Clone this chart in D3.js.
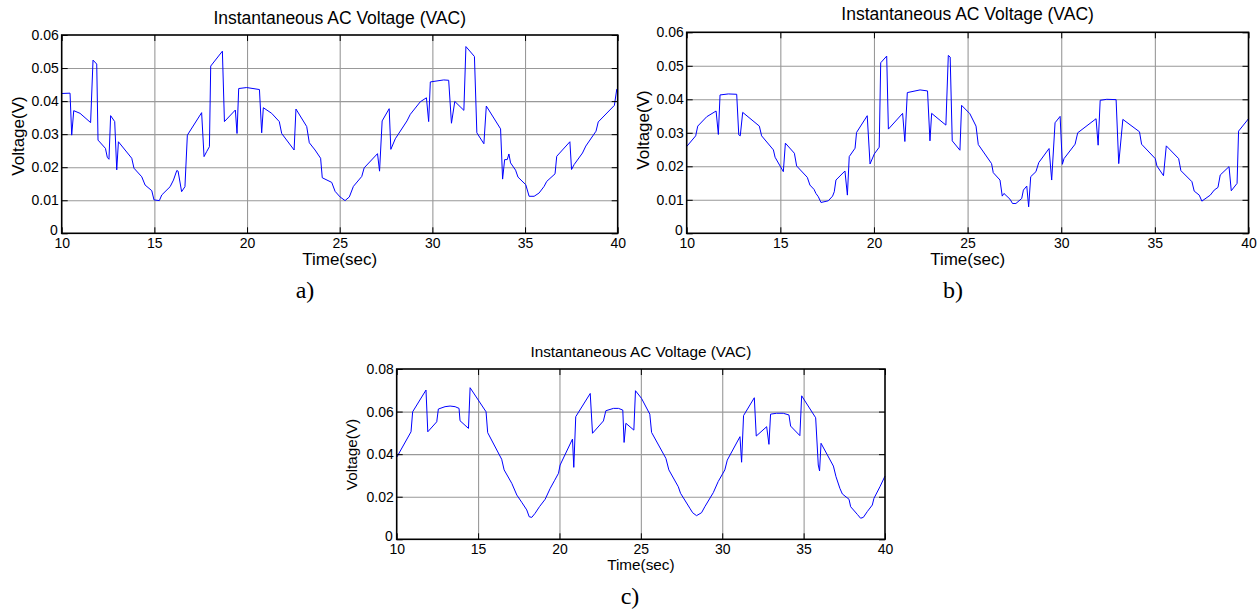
<!DOCTYPE html>
<html>
<head>
<meta charset="utf-8">
<script src="https://cdn.jsdelivr.net/npm/d3@7"></script>
<style>
  html, body { margin: 0; padding: 0; background: #fff; }
  svg { display: block; }
  text { font-family: "Liberation Sans", Arial, sans-serif; fill: #000; }
</style>
</head>
<body>
<svg id="chart" width="1260" height="611"></svg>
<script>
// ---------------- DATA ----------------
const xTicks = [10, 15, 20, 25, 30, 35, 40];
const yTicksAB = [0, 0.01, 0.02, 0.03, 0.04, 0.05, 0.06];
const yTicksC = [0, 0.02, 0.04, 0.06, 0.08];
const chartTitle = "Instantaneous AC Voltage (VAC)";
const xLabel = "Time(sec)";
const yLabel = "Voltage(V)";
const panelTags = ["a)", "b)", "c)"];

const timeA = [10, 10.45, 10.54, 10.65, 10.99, 11.56, 11.69, 11.89, 11.96, 12.36,
  12.46, 12.55, 12.64, 12.86, 12.97, 13.06, 13.42, 13.78, 13.90, 14.32,
  14.50, 14.86, 14.98, 15.27, 15.40, 15.85, 16.03, 16.21, 16.28, 16.47,
  16.65, 16.78, 17.55, 17.68, 17.82, 17.97, 18.04, 18.67, 18.78, 19.37,
  19.46, 19.55, 19.98, 20.67, 20.79, 20.88, 21.33, 21.74, 21.87, 22.54,
  22.64, 23.22, 23.36, 23.67, 23.97, 24.06, 24.57, 24.75, 25.02, 25.29,
  25.52, 25.74, 26.19, 26.32, 27.04, 27.15, 27.29, 27.67, 27.76, 28.00,
  28.63, 28.81, 29.35, 29.68, 29.80, 29.89, 30.61, 30.88, 31.03, 31.21,
  31.70, 31.81, 32.27, 32.40, 32.78, 32.91, 33.68, 33.79, 33.90, 34.04,
  34.13, 34.22, 34.49, 34.62, 35.04, 35.22, 35.49, 35.76, 36.03, 36.17,
  36.62, 36.71, 37.42, 37.51, 37.65, 38.10, 38.28, 38.83, 38.95, 39.82,
  39.95, 40];
const voltA = [0.0423, 0.0424, 0.0297, 0.0371, 0.0363, 0.0335, 0.0524, 0.0512, 0.0282, 0.0257,
  0.0230, 0.0224, 0.0356, 0.0338, 0.0192, 0.0277, 0.0252, 0.0227, 0.0197, 0.0171,
  0.0146, 0.0129, 0.0101, 0.0099, 0.0116, 0.0141, 0.0161, 0.0190, 0.0188, 0.0126,
  0.0141, 0.0297, 0.0365, 0.0232, 0.0247, 0.0262, 0.0506, 0.0551, 0.0338, 0.0373,
  0.0302, 0.0438, 0.0441, 0.0435, 0.0304, 0.0380, 0.0363, 0.0338, 0.0302, 0.0252,
  0.0376, 0.0323, 0.0274, 0.0252, 0.0227, 0.0168, 0.0154, 0.0127, 0.0110, 0.0099,
  0.0110, 0.0142, 0.0172, 0.0198, 0.0241, 0.0188, 0.0340, 0.0377, 0.0254, 0.0286,
  0.0340, 0.0360, 0.0398, 0.0410, 0.0338, 0.0458, 0.0464, 0.0463, 0.0333, 0.0399,
  0.0372, 0.0565, 0.0535, 0.0304, 0.0271, 0.0385, 0.0316, 0.0164, 0.0223, 0.0223,
  0.0240, 0.0213, 0.0191, 0.0170, 0.0147, 0.0112, 0.0112, 0.0122, 0.0142, 0.0157,
  0.0180, 0.0233, 0.0277, 0.0193, 0.0208, 0.0243, 0.0264, 0.0309, 0.0337, 0.0387,
  0.0436, 0.0438];

const timeB = [10, 10.48, 10.59, 11.07, 11.57, 11.69, 11.78, 12.22, 12.67, 12.78,
  12.86, 12.99, 13.88, 14.00, 14.63, 14.72, 15.16, 15.27, 15.75, 15.87,
  16.44, 16.58, 16.80, 16.90, 17.03, 17.17, 17.56, 17.79, 17.88, 17.97,
  18.45, 18.58, 18.68, 18.99, 19.07, 19.64, 19.79, 20.02, 20.28, 20.36,
  20.68, 20.77, 21.53, 21.65, 21.78, 22.46, 22.86, 22.99, 23.08, 23.84,
  23.97, 24.07, 24.18, 24.59, 24.68, 25.12, 25.45, 25.57, 26.28, 26.37,
  26.73, 26.85, 26.94, 27.26, 27.40, 27.58, 27.89, 27.98, 28.16, 28.26,
  28.37, 28.65, 28.80, 29.35, 29.49, 29.67, 29.94, 30.06, 30.15, 30.74,
  30.88, 31.86, 31.97, 32.08, 32.43, 32.93, 33.07, 33.29, 34.18, 34.29,
  35.02, 35.11, 35.46, 35.61, 36.27, 36.39, 36.98, 37.10, 37.37, 37.51,
  37.96, 38.17, 38.37, 38.49, 38.96, 39.08, 39.39, 39.47, 40];
const voltB = [0.0259, 0.0291, 0.0320, 0.0348, 0.0365, 0.0295, 0.0413, 0.0416, 0.0415, 0.0294,
  0.0291, 0.0361, 0.0320, 0.0291, 0.0249, 0.0227, 0.0184, 0.0269, 0.0239, 0.0201,
  0.0167, 0.0144, 0.0131, 0.0119, 0.0109, 0.0092, 0.0097, 0.0111, 0.0124, 0.0159,
  0.0186, 0.0114, 0.0229, 0.0254, 0.0301, 0.0351, 0.0207, 0.0237, 0.0257, 0.0509,
  0.0529, 0.0311, 0.0358, 0.0274, 0.0420, 0.0428, 0.0425, 0.0276, 0.0358, 0.0323,
  0.0531, 0.0526, 0.0276, 0.0248, 0.0382, 0.0357, 0.0320, 0.0265, 0.0208, 0.0181,
  0.0159, 0.0111, 0.0119, 0.0102, 0.0089, 0.0089, 0.0104, 0.0129, 0.0141, 0.0079,
  0.0169, 0.0184, 0.0211, 0.0253, 0.0159, 0.0330, 0.0349, 0.0206, 0.0223, 0.0266,
  0.0300, 0.0342, 0.0263, 0.0397, 0.0400, 0.0399, 0.0208, 0.0340, 0.0303, 0.0266,
  0.0223, 0.0201, 0.0172, 0.0261, 0.0223, 0.0187, 0.0154, 0.0126, 0.0114, 0.0096,
  0.0114, 0.0129, 0.0137, 0.0174, 0.0199, 0.0127, 0.0149, 0.0305, 0.0342];

const timeC = [10, 10.88, 10.98, 11.80, 11.91, 12.46, 12.56, 12.97, 13.28, 13.59,
  13.83, 13.89, 14.41, 14.51, 15.49, 15.59, 16.45, 16.60, 17.07, 17.38,
  17.68, 17.99, 18.14, 18.30, 18.50, 18.77, 19.12, 19.43, 19.69, 19.94,
  20.04, 20.80, 20.88, 21.00, 21.89, 22.03, 22.70, 22.85, 23.32, 23.63,
  23.89, 23.97, 24.08, 24.57, 24.67, 25.04, 25.55, 25.66, 26.54, 26.72,
  27.30, 27.44, 28.01, 28.18, 28.42, 28.73, 28.93, 29.45, 29.75, 30.16,
  30.31, 31.09, 31.19, 31.31, 31.97, 32.09, 32.73, 32.87, 32.97, 33.34,
  33.75, 34.10, 34.20, 34.77, 34.88, 35.74, 35.90, 35.98, 36.07, 36.83,
  36.99, 37.23, 37.38, 37.79, 37.89, 38.30, 38.50, 38.67, 38.91, 39.22,
  39.32, 39.69, 40];
const voltC = [0.0385, 0.0505, 0.0599, 0.0701, 0.0505, 0.0552, 0.0612, 0.0623, 0.0626, 0.0623,
  0.0615, 0.0557, 0.0521, 0.0712, 0.0599, 0.0501, 0.0376, 0.0326, 0.0263, 0.0208,
  0.0174, 0.0138, 0.0106, 0.0103, 0.0122, 0.0153, 0.0188, 0.0239, 0.0275, 0.0310,
  0.0349, 0.0471, 0.0338, 0.0576, 0.0685, 0.0498, 0.0556, 0.0604, 0.0615, 0.0615,
  0.0607, 0.0455, 0.0545, 0.0513, 0.0698, 0.0662, 0.0588, 0.0502, 0.0380, 0.0326,
  0.0247, 0.0216, 0.0146, 0.0125, 0.0111, 0.0125, 0.0153, 0.0219, 0.0271, 0.0326,
  0.0372, 0.0482, 0.0362, 0.0581, 0.0665, 0.0485, 0.0529, 0.0446, 0.0588, 0.0592,
  0.0592, 0.0584, 0.0532, 0.0487, 0.0674, 0.0571, 0.0349, 0.0321, 0.0451, 0.0344,
  0.0294, 0.0239, 0.0213, 0.0188, 0.0153, 0.0117, 0.0099, 0.0103, 0.0130, 0.0161,
  0.0192, 0.0247, 0.0297];

// ---------------- LAYOUT ----------------
const layout = [
  { t: timeA, v: voltA, yTicks: yTicksAB, left: 61.7, right: 617.7, top: 35, bottom: 233.3,
    titleY: 24, titleSize: 17.5, xlabY: 265, xlabSize: 17, ylabX: 24, ylabY: 136, ylabSize: 17,
    tickSize: 14, tagX: 305, tagY: 298 },
  { t: timeB, v: voltB, yTicks: yTicksAB, left: 686.7, right: 1248.5, top: 32.3, bottom: 233.3,
    titleY: 20, titleSize: 17.5, xlabY: 265, xlabSize: 17, ylabX: 649, ylabY: 130, ylabSize: 17,
    tickSize: 14, tagX: 953, tagY: 298 },
  { t: timeC, v: voltC, yTicks: yTicksC, left: 396.7, right: 885, top: 369, bottom: 539.3,
    titleY: 357, titleSize: 15.3, xlabY: 570, xlabSize: 15.3, ylabX: 357, ylabY: 454.5, ylabSize: 15.3,
    tickSize: 14, tagX: 630, tagY: 604 }
];

const svg = d3.select("#chart");

layout.forEach((p, i) => {
  const x = d3.scaleLinear().domain([xTicks[0], xTicks[xTicks.length - 1]]).range([p.left, p.right]);
  const y = d3.scaleLinear().domain([p.yTicks[0], p.yTicks[p.yTicks.length - 1]]).range([p.bottom, p.top]);
  const w = p.right - p.left, h = p.bottom - p.top;
  const g = svg.append("g");

  // grid
  g.append("g").attr("transform", `translate(0,${p.bottom})`)
    .call(d3.axisBottom(x).tickValues(xTicks.slice(1, -1)).tickSize(-h).tickFormat(""))
    .call(s => s.select(".domain").remove())
    .call(s => s.selectAll("line").attr("stroke", "#999").attr("stroke-width", 1.1));
  g.append("g").attr("transform", `translate(${p.left},0)`)
    .call(d3.axisLeft(y).tickValues(p.yTicks.slice(1, -1)).tickSize(-w).tickFormat(""))
    .call(s => s.select(".domain").remove())
    .call(s => s.selectAll("line").attr("stroke", "#999").attr("stroke-width", 1.1));

  // data line
  const pts = d3.zip(p.t, p.v);
  g.append("path").datum(pts)
    .attr("fill", "none").attr("stroke", "#0000ff").attr("stroke-width", 1)
    .attr("stroke-linejoin", "miter")
    .attr("d", d3.line().x(d => x(d[0])).y(d => y(d[1])));

  // axes with inward ticks
  const fmt = d => d === 0 ? "0" : d3.format("")(d);
  const bottomAx = g.append("g").attr("transform", `translate(0,${p.bottom})`)
    .call(d3.axisBottom(x).tickValues(xTicks).tickSize(-6).tickPadding(5).tickFormat(d3.format("d")));
  const leftAx = g.append("g").attr("transform", `translate(${p.left},0)`)
    .call(d3.axisLeft(y).tickValues(p.yTicks).tickSize(-6).tickPadding(3).tickFormat(fmt));
  const topAx = g.append("g").attr("transform", `translate(0,${p.top})`)
    .call(d3.axisTop(x).tickValues(xTicks).tickSize(-6).tickFormat(""));
  const rightAx = g.append("g").attr("transform", `translate(${p.right},0)`)
    .call(d3.axisRight(y).tickValues(p.yTicks).tickSize(-6).tickFormat(""));
  [bottomAx, leftAx, topAx, rightAx].forEach(a => {
    a.select(".domain").remove();
    a.selectAll("line").attr("stroke", "#000").attr("stroke-width", 1);
    a.selectAll("text").attr("font-family", "'Liberation Sans', Arial, sans-serif")
      .attr("font-size", p.tickSize).attr("fill", "#000");
  });
  // the corner "0" sits just above the first x label, as in the reference
  leftAx.selectAll(".tick text").filter(d => d === 0).attr("dy", "0.05em").attr("x", -4);

  // box
  g.append("rect").attr("x", p.left).attr("y", p.top).attr("width", w).attr("height", h)
    .attr("fill", "none").attr("stroke", "#000").attr("stroke-width", 1.6);

  // title
  g.append("text").attr("x", (p.left + p.right) / 2).attr("y", p.titleY)
    .attr("text-anchor", "middle").attr("font-size", p.titleSize).text(chartTitle);
  // x label
  g.append("text").attr("x", (p.left + p.right) / 2).attr("y", p.xlabY)
    .attr("text-anchor", "middle").attr("font-size", p.xlabSize).text(xLabel);
  // y label
  g.append("text").attr("transform", `translate(${p.ylabX},${p.ylabY}) rotate(-90)`)
    .attr("text-anchor", "middle").attr("font-size", p.ylabSize).text(yLabel);
  // panel tag
  g.append("text").attr("x", p.tagX).attr("y", p.tagY).attr("text-anchor", "middle")
    .style("font-family", "'Liberation Serif', 'Times New Roman', serif")
    .attr("font-size", 24).text(panelTags[i]);
});
</script>
</body>
</html>
